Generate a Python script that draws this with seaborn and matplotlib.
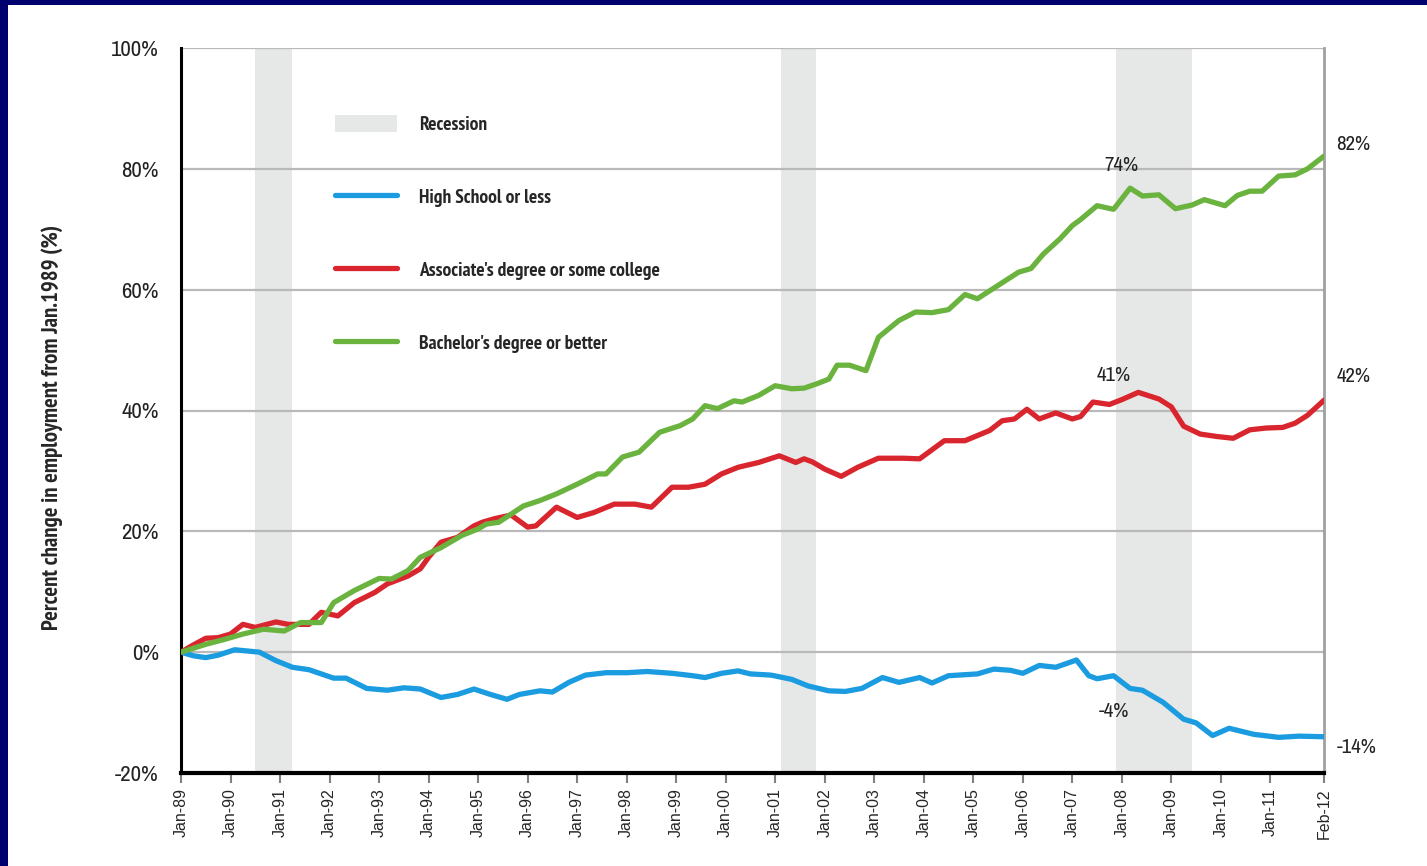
import matplotlib
matplotlib.use('Agg')
import matplotlib.pyplot as plt
import seaborn as sns
import numpy as np
import pandas as pd
from matplotlib import font_manager
from matplotlib.patches import Patch, Rectangle

# months counted from Jan-1989 (0) to Feb-2012 (277), values = % change
hs_months = [0, 3, 6, 9, 13, 16, 19, 23, 27, 31, 34, 37, 40, 45, 50, 54, 58, 63, 67, 71,
             75, 79, 82, 87, 90, 94, 98, 103, 108, 113, 119, 124, 127, 131, 135, 138, 143,
             148, 152, 157, 161, 165, 170, 174, 179, 182, 186, 193, 197, 201, 204, 208, 212,
             217, 220, 222, 226, 230, 233, 238, 243, 246, 250, 254, 260, 266, 271, 277]
hs_values = [0, -0.6, -0.9, -0.5, 0.4, 0.2, 0.0, -1.4, -2.5, -2.9, -3.6, -4.3, -4.3, -6.0,
             -6.3, -5.9, -6.1, -7.5, -7.0, -6.1, -7.0, -7.8, -7.0, -6.4, -6.6, -5.0, -3.8,
             -3.4, -3.4, -3.2, -3.5, -3.9, -4.2, -3.5, -3.1, -3.6, -3.8, -4.5, -5.6, -6.4,
             -6.5, -6.0, -4.2, -5.0, -4.2, -5.1, -3.9, -3.6, -2.8, -3.0, -3.5, -2.2, -2.5,
             -1.3, -3.9, -4.4, -3.9, -6.0, -6.3, -8.3, -11.1, -11.7, -13.8, -12.6, -13.6,
             -14.1, -13.9, -14.0]

as_months = [0, 3, 6, 9, 12, 15, 18, 23, 26, 31, 34, 38, 42, 47, 50, 55, 58, 60, 63, 67,
             71, 73, 76, 80, 84, 86, 91, 96, 100, 105, 110, 114, 119, 123, 127, 131, 135,
             140, 145, 149, 151, 153, 156, 160, 164, 169, 175, 179, 185, 190, 196, 199, 202,
             205, 208, 212, 216, 218, 221, 225, 228, 232, 237, 240, 243, 247, 251, 255, 259,
             263, 267, 270, 273, 277]
as_values = [0, 1.2, 2.3, 2.4, 3.0, 4.6, 4.1, 5.0, 4.6, 4.6, 6.6, 6.0, 8.2, 9.9, 11.3, 12.6,
             13.8, 15.7, 18.2, 19.0, 20.9, 21.5, 22.1, 22.7, 20.7, 20.9, 24.0, 22.3, 23.1,
             24.5, 24.5, 24.0, 27.3, 27.3, 27.8, 29.5, 30.6, 31.4, 32.5, 31.4, 32.0, 31.5,
             30.3, 29.1, 30.6, 32.1, 32.1, 32.0, 35.0, 35.0, 36.7, 38.3, 38.6, 40.2, 38.6,
             39.6, 38.6, 39.0, 41.4, 41.0, 41.8, 43.0, 41.9, 40.6, 37.4, 36.1, 35.7, 35.4,
             36.8, 37.1, 37.2, 37.9, 39.2, 41.7]

ba_months = [0, 6, 11, 15, 20, 25, 29, 34, 37, 42, 48, 51, 55, 58, 63, 68, 72, 74, 77, 83,
             87, 91, 96, 101, 103, 107, 111, 116, 121, 124, 127, 130, 134, 136, 140, 144,
             148, 151, 154, 157, 159, 162, 166, 169, 174, 178, 182, 186, 190, 193, 198, 203,
             206, 209, 213, 216, 218, 222, 226, 230, 233, 237, 241, 245, 248, 253, 256, 259,
             262, 266, 270, 273, 277]
ba_values = [0, 1.3, 2.2, 3.0, 3.8, 3.5, 4.9, 4.9, 8.2, 10.2, 12.2, 12.1, 13.5, 15.7, 17.3,
             19.3, 20.4, 21.2, 21.5, 24.2, 25.1, 26.2, 27.8, 29.5, 29.5, 32.3, 33.1, 36.4,
             37.5, 38.6, 40.8, 40.3, 41.6, 41.4, 42.5, 44.1, 43.6, 43.7, 44.4, 45.2, 47.5,
             47.5, 46.6, 52.1, 54.9, 56.3, 56.2, 56.7, 59.2, 58.5, 60.7, 62.9, 63.5, 65.9,
             68.4, 70.6, 71.6, 73.9, 73.3, 76.8, 75.5, 75.7, 73.4, 74.0, 74.9, 73.9, 75.6,
             76.3, 76.3, 78.8, 79.0, 80.0, 82.1]

series_names = ['High School or less', "Associate's degree or some college",
                "Bachelor's degree or better"]
series_colors = ['#1b9be0', '#d9262e', '#6bb33f']

# recessions (start month, end month)
recessions = [(18, 27), (145.5, 154), (226.5, 245)]

tick_months = list(range(0, 265, 12)) + [277]
tick_labels = ['Jan-%02d' % ((89 + i) % 100) for i in range(23)] + ['Feb-12']

# point labels: (month, value, text)
point_labels = [(228, 80.5, '74%'), (226, 45.8, '41%'), (226, -9.8, '-4%')]
end_labels = [(84, '82%'), (45.7, '42%'), (-15.7, '-14%')]

sns.set_style('white')
plt.rcParams['font.family'] = ['Liberation Sans', 'DejaVu Sans']


# look for a narrow / condensed face among the installed fonts
def narrow_font(bold):
    best, best_rank = None, 99
    for f in font_manager.fontManager.ttflist:
        key = (f.name + ' ' + f.fname.split('/')[-1] + ' ' + str(f.stretch)).lower()
        if 'italic' in key or 'oblique' in key or f.style != 'normal':
            continue
        if 'mono' in key or 'serif' in key.replace('sans', ''):
            continue
        if not ('narrow' in key or 'condensed' in key):
            continue
        w = f.weight if isinstance(f.weight, int) else 400
        if bold and w < 600 or (not bold and w not in (400,)):
            continue
        if 'narrow' in key:
            rank = 0
        elif 'semi' in key or 'extra' in key or 'ultra' in key:
            rank = 3 if 'semi' in key else 2
        else:
            rank = 1
        if bold and w != 700:
            rank += 0.5
        if rank < best_rank:
            best, best_rank = f.fname, rank
    if best is None:
        return dict(family='DejaVu Sans', weight='bold' if bold else 'normal')
    return dict(fname=best)


reg = narrow_font(False)
bld = narrow_font(True)


def fp(spec, size):
    return font_manager.FontProperties(size=size, **spec)


df = pd.concat([
    pd.DataFrame({'month': hs_months, 'value': hs_values, 'series': series_names[0]}),
    pd.DataFrame({'month': as_months, 'value': as_values, 'series': series_names[1]}),
    pd.DataFrame({'month': ba_months, 'value': ba_values, 'series': series_names[2]}),
])

fig = plt.figure(figsize=(14.27, 8.66), dpi=100, facecolor='white')
# navy frame on the left and top edges
fig.patches.append(Rectangle((0, 0), 8 / 1427, 1, transform=fig.transFigure,
                             facecolor='#00006e', edgecolor='none', zorder=-1))
fig.patches.append(Rectangle((0, (866 - 5) / 866), 1, 5 / 866, transform=fig.transFigure,
                             facecolor='#00006e', edgecolor='none', zorder=-1))
ax = fig.add_axes([181 / 1427, 93 / 866, 1143 / 1427, 725 / 866])
ax.set_facecolor('white')

for s, e in recessions:
    ax.axvspan(s, e, color='#e6e7e7', lw=0, zorder=0)

for y in range(-20, 101, 20):
    ax.axhline(y, color='#b9b9b9', lw=1.6, zorder=1)

sns.lineplot(data=df, x='month', y='value', hue='series', hue_order=series_names,
             palette=series_colors, linewidth=3.8, ax=ax, zorder=3, legend=False)

ax.set_xlim(0, 277)
ax.set_ylim(-20, 100)
ax.set_xticks(tick_months)
ax.set_xticklabels(tick_labels, rotation=90, fontsize=11.5)
ax.set_yticks(range(-20, 101, 20))
ax.set_yticklabels(['%d%%' % v for v in range(-20, 101, 20)],
                   fontproperties=fp(reg, 16.5), color='#222222')
ax.tick_params(axis='x', length=7, width=1.5, color='#808080', pad=4, bottom=True)
ax.tick_params(axis='y', length=0, pad=16)
ax.set_xlabel('')
ax.set_ylabel('Percent change in employment from Jan.1989 (%)',
              fontproperties=fp(bld, 16.4), va='center')
ax.yaxis.set_label_coords(-0.113, 0.477)

ax.spines['top'].set_visible(False)
ax.spines['right'].set_color('#a0a0a0')
ax.spines['right'].set_linewidth(2)
ax.spines['left'].set_color('black')
ax.spines['left'].set_linewidth(2.2)
ax.spines['bottom'].set_color('black')
ax.spines['bottom'].set_linewidth(3)
ax.spines['bottom'].set_zorder(5)

for m, v, t in point_labels:
    ax.text(m, v, t, ha='center', va='center', color='#222222', fontproperties=fp(reg, 15))
for v, t in end_labels:
    ax.text(280, v, t, ha='left', va='center', color='#222222', clip_on=False,
            fontproperties=fp(reg, 15))

handles = [Patch(facecolor='#e6e7e7', edgecolor='none')]
handles += [plt.Line2D([], [], color=c, lw=3.8, solid_capstyle='round') for c in series_colors]
leg = ax.legend(handles, ['Recession'] + series_names, loc='upper left',
                bbox_to_anchor=(0.126, 0.9215), frameon=False, borderpad=0,
                handlelength=3.19, handleheight=1.0, handletextpad=1.13, labelspacing=2.76,
                prop=fp(bld, 14))

fig.savefig('out.png', dpi=100)
